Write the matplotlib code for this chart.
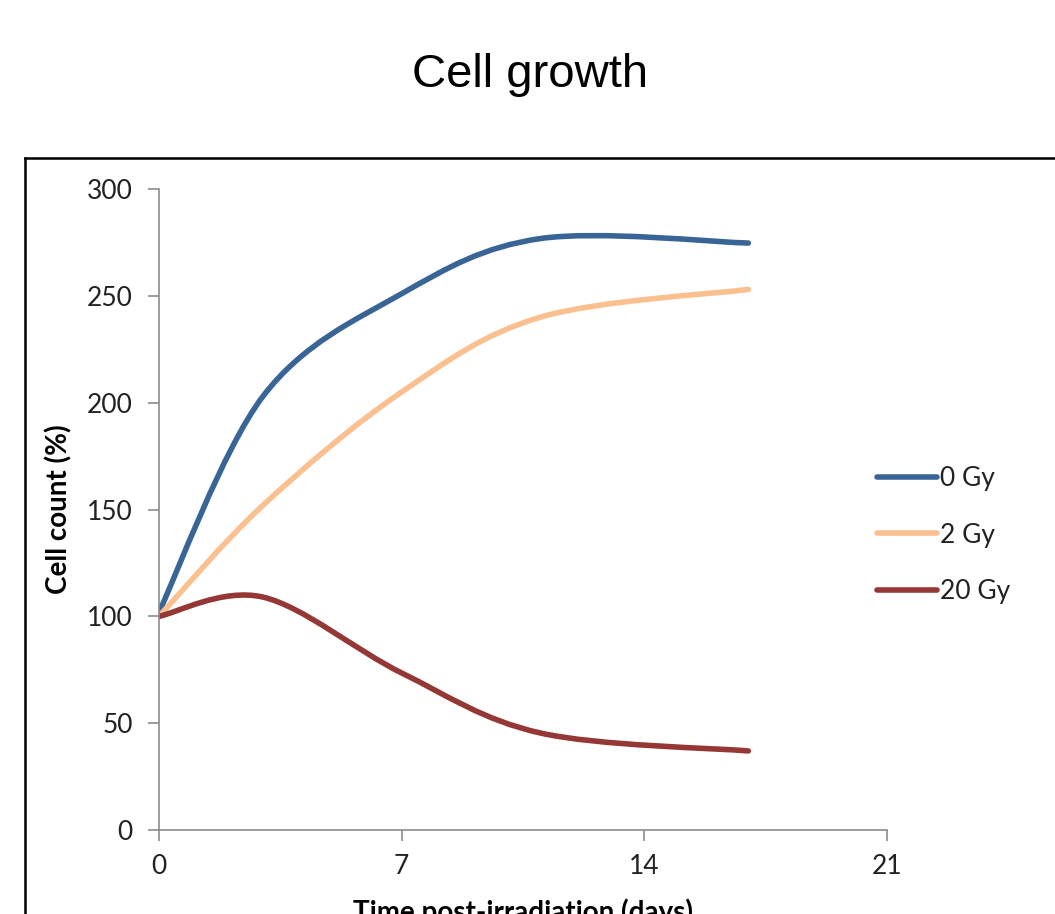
import numpy as np
import matplotlib
matplotlib.use('Agg')
import matplotlib.pyplot as plt
from matplotlib.path import Path
from matplotlib.patches import PathPatch
from matplotlib.lines import Line2D

# === DATA ===
days = [0, 3, 7, 11, 17]
gy0 = [102, 203, 251, 276.8, 274.7]
gy2 = [100, 152, 205, 240, 253]
gy20 = [100, 109, 73.5, 45.4, 37]
labels = ['0 Gy', '2 Gy', '20 Gy']

BLUE = '#386596'
ORANGE = '#FAC090'
RED = '#953735'
GREY = '#8c8c8c'
TICKFONT = 'Lato'

fig = plt.figure(figsize=(10.55, 9.14), dpi=100)
fig.patch.set_facecolor('white')

# outer chart frame (cut off on right/bottom in the reference)
fig.add_artist(Line2D([25 / 1055, 1.0], [1 - 158 / 914] * 2, color='black', lw=1.8))
fig.add_artist(Line2D([25 / 1055] * 2, [0.0, 1 - 158 / 914], color='black', lw=1.8))

fig.text(530 / 1055, 1 - 75 / 914, 'Cell growth', ha='center', va='center',
         fontsize=34, family='Liberation Sans')

ax = fig.add_axes([159 / 1055, 84 / 914, 728 / 1055, 641 / 914])


def smooth_path(xs, ys):
    # Excel-style smoothed line: cubic Bezier through each point
    p = np.column_stack([xs, ys]).astype(float)
    ext = np.vstack([p[0], p, p[-1]])
    verts = [p[0]]
    codes = [Path.MOVETO]
    for i in range(1, len(ext) - 2):
        p0, p1, p2, p3 = ext[i - 1], ext[i], ext[i + 1], ext[i + 2]
        c1 = p1 + (p2 - p0) / 6
        c2 = p2 - (p3 - p1) / 6
        verts += [c1, c2, p2]
        codes += [Path.CURVE4] * 3
    return Path(verts, codes)


handles = []
for ys, col, lab in zip([gy0, gy2, gy20], [BLUE, ORANGE, RED], labels):
    ax.add_patch(PathPatch(smooth_path(days, ys), facecolor='none',
                           edgecolor=col, lw=4, capstyle='round'))
    handles.append(Line2D([], [], color=col, lw=4, solid_capstyle='round', label=lab))

ax.set_xlim(0, 21)
ax.set_ylim(0, 300)
ax.set_xticks([0, 7, 14, 21])
ax.set_yticks(range(0, 301, 50))
for s in ['top', 'right']:
    ax.spines[s].set_visible(False)
for s in ['left', 'bottom']:
    ax.spines[s].set_color(GREY)
    ax.spines[s].set_linewidth(1.2)
ax.tick_params(direction='out', length=8, width=1.2, color=GREY,
               labelsize=19, labelcolor='#222222')
ax.tick_params(axis='y', pad=11)
ax.tick_params(axis='x', pad=9)
for t in ax.get_xticklabels() + ax.get_yticklabels():
    t.set_family(TICKFONT)

ax.set_ylabel('Cell count (%)', fontsize=20, fontweight='bold', family=TICKFONT,
              labelpad=10)
ax.set_xlabel('Time post-irradiation (days)', fontsize=20, fontweight='bold',
              family=TICKFONT, labelpad=14)

leg = fig.legend(handles=handles, loc='center left',
                 bbox_to_anchor=(853 / 1055, 1 - 535 / 914), frameon=False,
                 handlelength=2.3, handletextpad=0.1, labelspacing=1.2,
                 prop={'family': TICKFONT, 'size': 19})
for t in leg.get_texts():
    t.set_color('#222222')

fig.savefig('out.png', dpi=100, facecolor='white')
